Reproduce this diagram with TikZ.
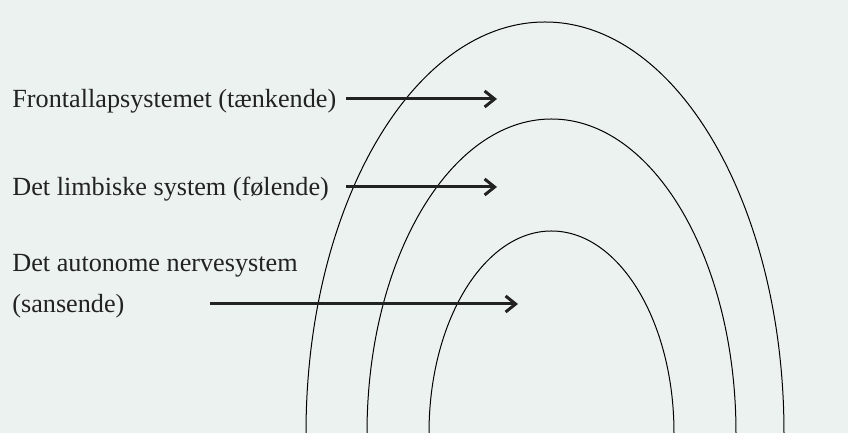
\documentclass[tikz,border=0pt]{standalone}
\usepackage{fontspec}
\setmainfont{Liberation Serif}
\usetikzlibrary{arrows.meta}
\definecolor{baggrund}{RGB}{236,242,239}
\definecolor{tekst}{RGB}{34,34,34}

\begin{document}
\begin{tikzpicture}[x=0.5pt, y=0.5pt,
    etiket/.style={anchor=base west, inner sep=0pt, text=tekst,
        font=\fontsize{13.1}{16}\selectfont},
    pil/.style={-{Straight Barb[length=5pt, width=8pt]}, line width=1.5pt,
        draw=tekst, line cap=butt},
    bue/.style={draw=black, line width=0.5pt}]

    \fill[baggrund] (0,0) rectangle (848,433);
    \useasboundingbox (0,0) rectangle (848,433);

    % Tre buer (halve ellipser med centrum i bunden)
    \draw[bue] (306,0) arc[start angle=180, end angle=0, x radius=239,   y radius=411];
    \draw[bue] (367,0) arc[start angle=180, end angle=0, x radius=184.5, y radius=314];
    \draw[bue] (429,0) arc[start angle=180, end angle=0, x radius=122.5, y radius=202];

    % Tekster
    \node[etiket] (front)  at (12,325) {Frontallapsystemet (tænkende)};
    \node[etiket] (limb)   at (12,237) {Det limbiske system (følende)};
    \node[etiket] (auto)   at (12,161) {Det autonome nervesystem};
    \node[etiket] (auto2)  at (12,120) {(sansende)};

    \coordinate (front-s) at (346,334);   % pil 1
    \coordinate (front-e) at (497,334);
    \coordinate (limb-s)  at (346,246);   % pil 2
    \coordinate (limb-e)  at (497,246);
    \coordinate (auto-s)  at (210,129);   % pil 3
    \coordinate (auto-e)  at (518,129);

    % Pile ind i buerne
    \draw[pil] (front-s) -- (front-e);
    \draw[pil] (limb-s) -- (limb-e);
    \draw[pil] (auto-s) -- (auto-e);
\end{tikzpicture}
\end{document}
